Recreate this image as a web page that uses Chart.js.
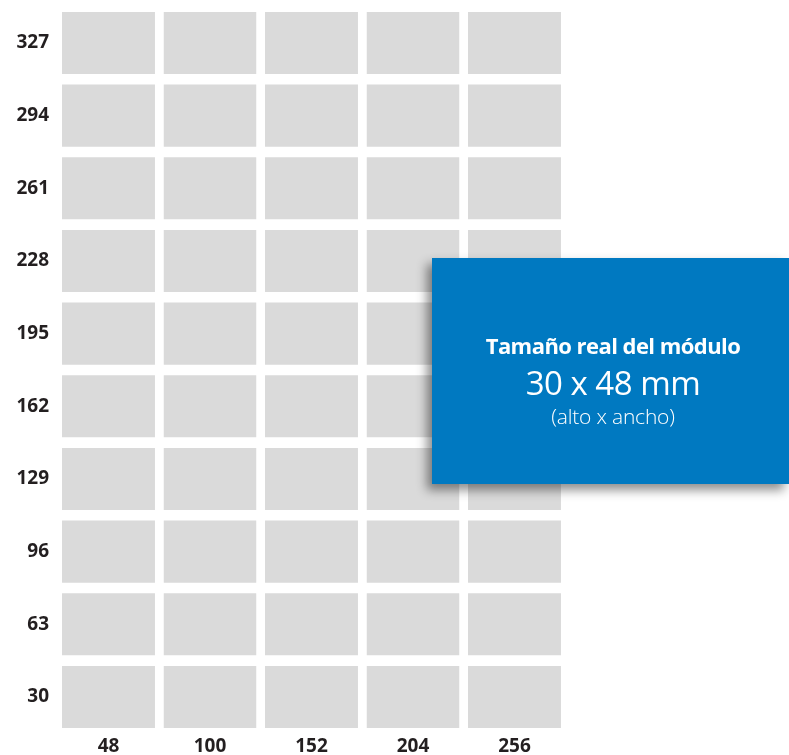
<!DOCTYPE html>
<html>
<head>
<meta charset="utf-8">
<script src="https://cdn.jsdelivr.net/npm/chart.js@4"></script>
<style>
  html, body { margin: 0; padding: 0; background: #fff; }
  #wrap { position: relative; width: 789px; height: 755px; overflow: hidden; }
  #box {
    position: absolute; left: 432px; top: 258px; width: 357px; height: 226px;
    background: #0079c1; color: #fff; text-align: center;
    box-shadow: -5px 6px 10px rgba(0,0,0,0.45);
    font-family: "Open Sans", sans-serif;
  }
  #t1 { position: absolute; left: 0; right: 0; top: 72px; font-weight: 700; font-size: 22px; letter-spacing: -0.55px; line-height: 30px; padding-left: 5px; }
  #t2 { position: absolute; left: 0; right: 0; top: 103px; font-weight: 400; font-size: 33px; line-height: 44px; letter-spacing: -0.5px; padding-left: 5px; }
  #t3 { position: absolute; left: 0; right: 0; top: 144px; font-weight: 300; font-size: 21px; line-height: 28px; letter-spacing: -0.2px; padding-left: 5px; }
</style>
</head>
<body>
<div id="wrap">
  <canvas id="c"></canvas>
  <div id="box">
    <div id="t1">Tamaño real del módulo</div>
    <div id="t2">30 x 48 mm</div>
    <div id="t3">(alto x ancho)</div>
  </div>
</div>
<script>
const rowLabels = ['30', '63', '96', '129', '162', '195', '228', '261', '294', '327'];
const colLabels = ['48', '100', '152', '204', '256'];
const moduleUnits = [1, 1, 1, 1, 1];

const datasets = rowLabels.map(r => ({
  label: r,
  data: moduleUnits,
  backgroundColor: '#dadada',
  borderColor: '#ffffff',
  borderWidth: { top: 5.3, bottom: 5.3, left: 0, right: 0 },
  borderSkipped: false,
  inflateAmount: 0,
  categoryPercentage: 1,
  barPercentage: 0.916
}));

const tickFont = { family: '"Open Sans", sans-serif', weight: '700', size: 19 };

new Chart(document.getElementById('c'), {
  type: 'bar',
  data: { labels: colLabels, datasets },
  options: {
    responsive: true,
    maintainAspectRatio: false,
    animation: false,
    layout: { padding: { top: 6.65, right: 223.75, left: 0, bottom: 0 } },
    plugins: { legend: { display: false }, tooltip: { enabled: false } },
    scales: {
      x: {
        stacked: true,
        grid: { display: false, drawTicks: false },
        border: { display: false },
        ticks: { color: '#231f20', font: tickFont, padding: 2, maxRotation: 0 },
        afterFit: s => { s.height = 21.7; s.paddingLeft = 0; s.paddingRight = 0; }
      },
      y: {
        stacked: true,
        min: 0, max: rowLabels.length,
        grid: { display: false, drawTicks: false },
        border: { display: false },
        afterBuildTicks: s => { s.ticks = rowLabels.map((_, i) => ({ value: i + 0.5 })); },
        ticks: { color: '#231f20', font: tickFont, padding: 8.75, callback: v => rowLabels[Math.floor(v)] },
        afterFit: s => { s.width = 57.75; s.paddingTop = 0; s.paddingBottom = 0; }
      }
    }
  }
});
</script>
</body>
</html>
